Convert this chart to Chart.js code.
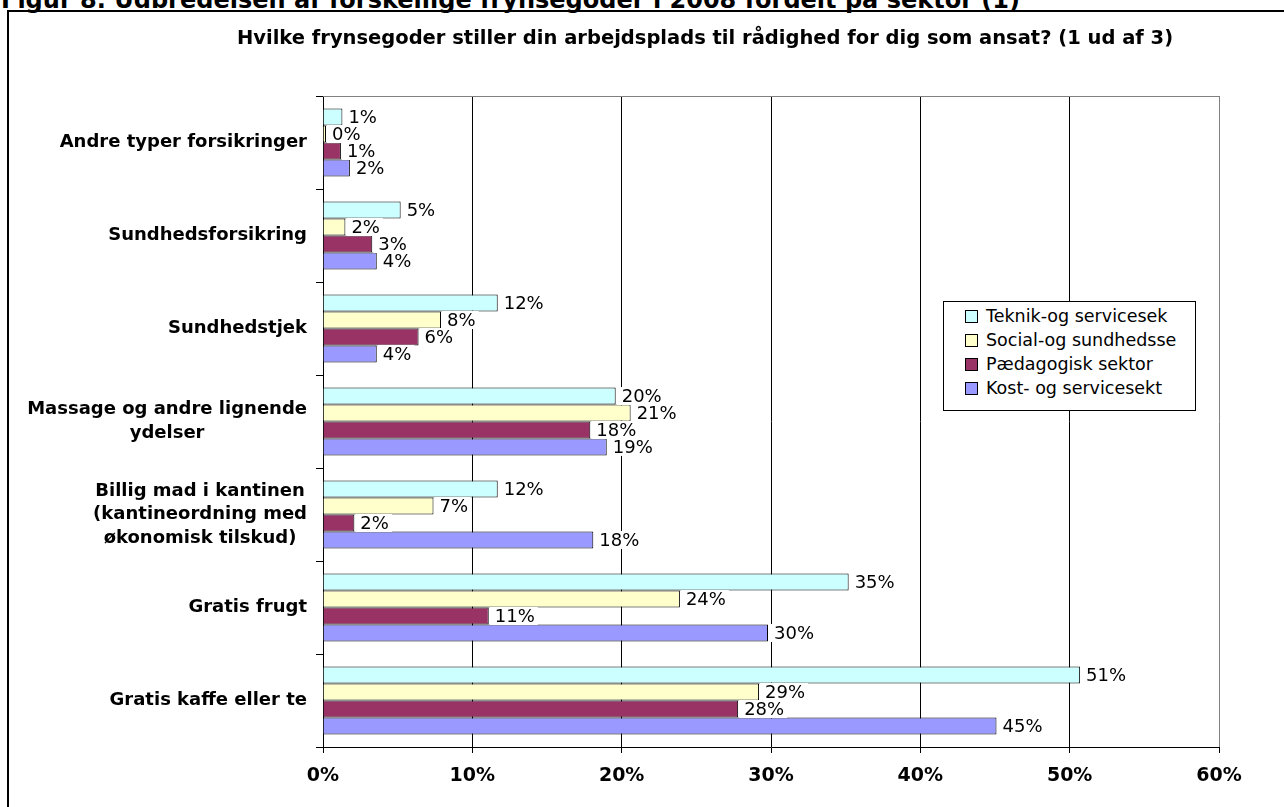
<!DOCTYPE html>
<html>
<head>
<meta charset="utf-8">
<script src="https://cdn.jsdelivr.net/npm/chart.js@4.4.1/dist/chart.umd.min.js"></script>
<style>
  body { margin: 0; background: #fff; font-family: "DejaVu Sans", Verdana, sans-serif; }
  #wrap { position: relative; width: 1284px; height: 807px; overflow: hidden; }
  #figtitle { position: absolute; left: 1px; top: -14px; font-size: 24px; font-weight: bold; white-space: nowrap; line-height: normal; }
  #frame { position: absolute; left: 7px; top: 10px; width: 1400px; height: 900px; border: 2px solid #000; }
  #title { position: absolute; left: 705px; top: 27px; transform: translateX(-50%); font-size: 19.5px; font-weight: bold; white-space: nowrap; line-height: 22px; }
  canvas { position: absolute; left: 0; top: 0; }
  #legend { position: absolute; left: 943px; top: 301px; width: 251px; height: 108px; border: 1px solid #000; background: #fff; font-size: 17.5px; }
  #legend div { position: absolute; left: 21px; height: 24px; line-height: 24px; white-space: nowrap; }
  #legend span { display: inline-block; width: 11px; height: 11px; border: 1px solid #000; margin-right: 8px; vertical-align: -1px; }
</style>
</head>
<body>
<div id="wrap">
  <div id="frame"></div>
  <div id="figtitle">Figur 8. Udbredelsen af forskellige frynsegoder i 2008 fordelt på sektor (1)</div>
  <canvas id="frynseChart" width="1284" height="807"></canvas>
  <div id="title">Hvilke frynsegoder stiller din arbejdsplads til rådighed for dig som ansat? (1 ud af 3)</div>
  <div id="legend"></div>
</div>
<script>
const categories = [
  ['Andre typer forsikringer'],
  ['Sundhedsforsikring'],
  ['Sundhedstjek'],
  ['Massage og andre lignende', 'ydelser'],
  ['Billig mad i kantinen', '(kantineordning med', 'økonomisk tilskud)'],
  ['Gratis frugt'],
  ['Gratis kaffe eller te']
];
const seriesNames = ['Teknik-og servicesek', 'Social-og sundhedsse', 'Pædagogisk sektor', 'Kost- og servicesekt'];
const teknik = [1.3, 5.2, 11.7, 19.6, 11.7, 35.2, 50.7];
const social = [0.2, 1.5, 7.9, 20.6, 7.4, 23.9, 29.2];
const paedagogisk = [1.2, 3.3, 6.4, 17.9, 2.1, 11.1, 27.8];
const kost = [1.8, 3.6, 3.6, 19.0, 18.1, 29.8, 45.1];
const xTicks = [0, 10, 20, 30, 40, 50, 60];

const colors = ['#CCFFFF', '#FFFFCC', '#993366', '#9999FF'];
const values = [teknik, social, paedagogisk, kost];

// legend box inside the plot (html)
const legend = document.getElementById('legend');
seriesNames.forEach((name, i) => {
  const row = document.createElement('div');
  row.style.top = (2 + i * 24) + 'px';
  row.innerHTML = '<span style="background:' + colors[i] + '"></span>' + name;
  legend.appendChild(row);
});

// labels, top border and category text
const extras = {
  id: 'extras',
  beforeDatasetsDraw(chart) {
    const { ctx, chartArea } = chart;
    ctx.save();
    ctx.strokeStyle = '#808080';
    ctx.lineWidth = 1;
    ctx.beginPath();
    ctx.moveTo(chartArea.left, chartArea.top + 0.5);
    ctx.lineTo(chartArea.right, chartArea.top + 0.5);
    ctx.stroke();
    ctx.restore();
  },
  afterDatasetsDraw(chart) {
    const { ctx } = chart;
    ctx.save();
    ctx.font = '18px "DejaVu Sans"';
    ctx.textBaseline = 'middle';
    chart.data.datasets.forEach((ds, di) => {
      chart.getDatasetMeta(di).data.forEach((bar, i) => {
        const txt = Math.round(ds.data[i]) + '%';
        const w = ctx.measureText(txt).width;
        ctx.fillStyle = '#fff';
        ctx.fillRect(bar.x + 1, bar.y - 9, w + 8, 18);
        ctx.fillStyle = '#000';
        ctx.fillText(txt, bar.x + 6, bar.y + 1);
      });
    });
    // category labels: block right aligned, lines centred
    const y = chart.scales.y;
    ctx.font = 'bold 18px "DejaVu Sans"';
    ctx.textAlign = 'center';
    categories.forEach((lines, i) => {
      const cy = y.getPixelForValue(i);
      const bw = Math.max(...lines.map(l => ctx.measureText(l).width));
      const cx = 307 - bw / 2;
      const lh = 23.5;
      lines.forEach((l, j) => {
        ctx.fillText(l, cx, cy + (j - (lines.length - 1) / 2) * lh);
      });
    });
    ctx.restore();
  }
};

new Chart(document.getElementById('frynseChart'), {
  type: 'bar',
  data: {
    labels: categories,
    datasets: seriesNames.map((name, i) => ({
      label: name,
      data: values[i],
      backgroundColor: colors[i],
      borderColor: '#000',
      borderWidth: 1,
      borderSkipped: 'start',
      barPercentage: 1,
      categoryPercentage: 0.73
    }))
  },
  options: {
    indexAxis: 'y',
    responsive: false,
    animation: false,
    events: [],
    layout: { padding: { top: 96, right: 65, bottom: 10, left: 0 } },
    plugins: {
      legend: { display: false },
      title: { display: false },
      tooltip: { enabled: false }
    },
    scales: {
      x: {
        min: 0,
        max: 60,
        afterBuildTicks: s => { s.ticks = xTicks.map(v => ({ value: v })); },
        afterFit: s => { s.height = 50; },
        ticks: {
          callback: v => v + '%',
          color: '#000',
          font: { family: 'DejaVu Sans', size: 19, weight: 'bold' },
          padding: 12,
          maxRotation: 0
        },
        grid: {
          color: c => (c.tick && c.tick.value === 60 ? '#808080' : '#000'),
          tickColor: '#000',
          tickLength: 6,
          lineWidth: 1
        },
        border: { color: '#000' }
      },
      y: {
        afterFit: s => { s.width = 323; },
        ticks: { display: false },
        grid: {
          offset: true,
          drawOnChartArea: false,
          tickLength: 7,
          color: '#000'
        },
        border: { color: '#000' }
      }
    }
  },
  plugins: [extras]
});
</script>
</body>
</html>
